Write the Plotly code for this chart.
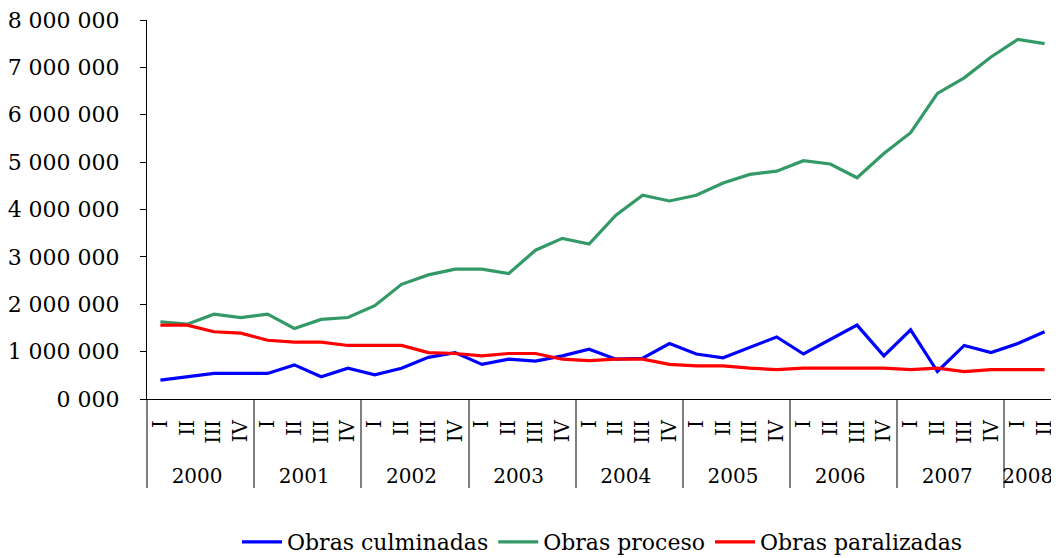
import plotly.graph_objects as go

years = ["2000"] * 4 + ["2001"] * 4 + ["2002"] * 4 + ["2003"] * 4 + ["2004"] * 4 + \
        ["2005"] * 4 + ["2006"] * 4 + ["2007"] * 4 + ["2008"] * 2
quarters = ["I", "II", "III", "IV"] * 8 + ["I", "II"]

culminadas = [0.40, 0.47, 0.54, 0.54, 0.54, 0.72, 0.47, 0.65, 0.51, 0.65, 0.88, 0.98,
              0.73, 0.84, 0.80, 0.91, 1.05, 0.84, 0.86, 1.17, 0.95, 0.87, 1.09, 1.31,
              0.95, 1.26, 1.56, 0.91, 1.46, 0.58, 1.13, 0.98, 1.17, 1.42]
proceso = [1.63, 1.58, 1.79, 1.72, 1.79, 1.49, 1.68, 1.72, 1.97, 2.42, 2.62, 2.74,
           2.74, 2.65, 3.14, 3.39, 3.27, 3.88, 4.30, 4.18, 4.30, 4.56, 4.74, 4.81,
           5.03, 4.96, 4.67, 5.18, 5.62, 6.45, 6.78, 7.22, 7.59, 7.50]
paralizadas = [1.56, 1.56, 1.42, 1.39, 1.24, 1.20, 1.20, 1.13, 1.13, 1.13, 0.98, 0.96,
               0.91, 0.96, 0.96, 0.84, 0.81, 0.84, 0.84, 0.73, 0.70, 0.70, 0.65, 0.62,
               0.65, 0.65, 0.65, 0.65, 0.62, 0.65, 0.58, 0.62, 0.62, 0.62]

culminadas = [v * 1e6 for v in culminadas]
proceso = [v * 1e6 for v in proceso]
paralizadas = [v * 1e6 for v in paralizadas]

y_tickvals = [0, 1e6, 2e6, 3e6, 4e6, 5e6, 6e6, 7e6, 8e6]
y_ticktext = ["0 000", "1 000 000", "2 000 000", "3 000 000", "4 000 000",
              "5 000 000", "6 000 000", "7 000 000", "8 000 000"]

# leading non-breaking spaces lengthen the rotated quarter labels downward
x = [years, ["\u00a0\u00a0" + q for q in quarters]]
font = "DejaVu Serif"

fig = go.Figure()
fig.add_trace(go.Scatter(x=x, y=culminadas, mode="lines", name="Obras culminadas",
                         line=dict(color="#0000FF", width=3.2)))
fig.add_trace(go.Scatter(x=x, y=proceso, mode="lines", name="Obras proceso",
                         line=dict(color="#339966", width=3.2)))
fig.add_trace(go.Scatter(x=x, y=paralizadas, mode="lines", name="Obras paralizadas",
                         line=dict(color="#FF0000", width=3.2)))

fig.update_layout(
    width=1051, height=550,
    margin=dict(l=139, r=1, t=12, b=159, autoexpand=False),
    paper_bgcolor="white", plot_bgcolor="white",
    font=dict(family=font, size=21, color="black"),
    showlegend=True,
    legend=dict(orientation="h", x=0.5, xanchor="center", y=-0.322, yanchor="top",
                font=dict(family=font, size=22, color="black"), itemwidth=40,
                tracegroupgap=0),
    xaxis=dict(type="multicategory", range=[-0.5, 33.5], automargin=False,
               showline=True, linecolor="black", linewidth=1, mirror=False,
               showgrid=False, ticks="", tickangle=-90, showdividers=True,
               dividercolor="#808080", dividerwidth=1.5, ticklabelstandoff=12,
               ticklabeloverflow="allow",
               tickfont=dict(family=font, size=20, color="black")),
    yaxis=dict(range=[0, 8e6], tickvals=y_tickvals, ticktext=y_ticktext,
               automargin=False, ticklabeloverflow="allow",
               showline=True, linecolor="black", linewidth=1, showgrid=False,
               ticks="outside", ticklen=6, tickcolor="black", zeroline=False,
               ticklabelstandoff=16,
               tickfont=dict(family=font, size=22, color="black")),
)

fig.write_html("out.html")
